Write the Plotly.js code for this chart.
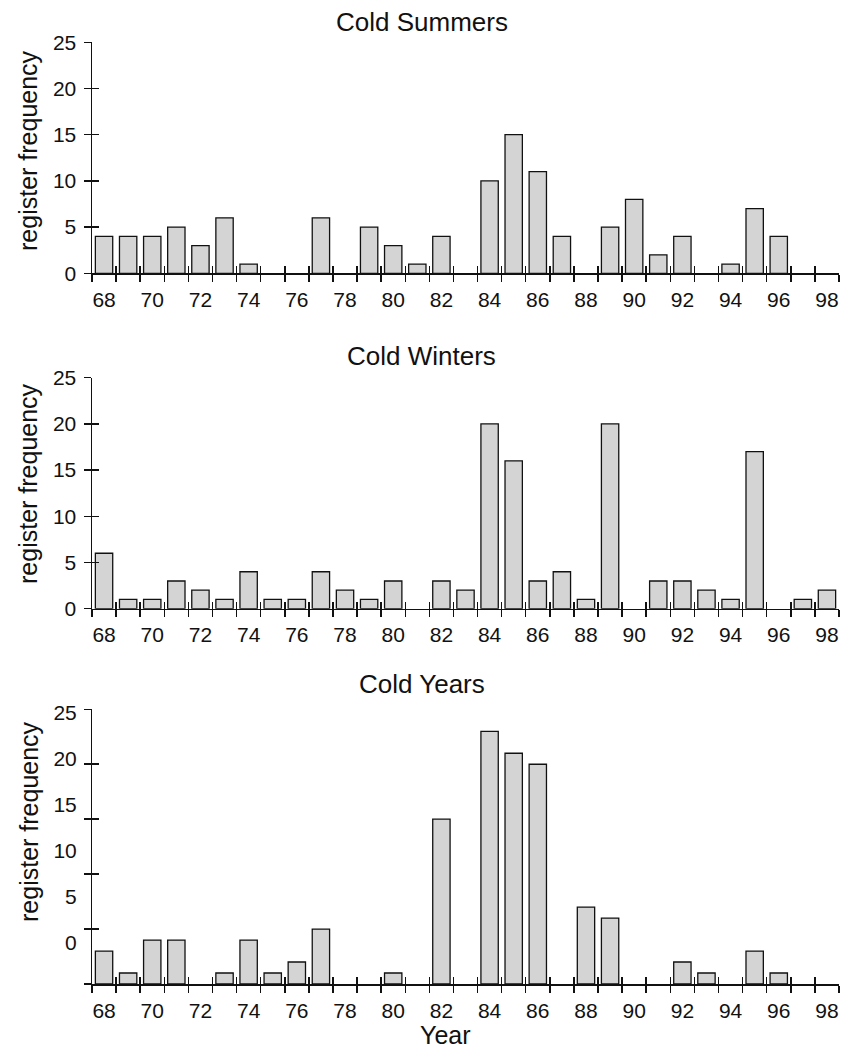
<!DOCTYPE html>
<html>
<head>
<meta charset="utf-8">
<script src="https://cdn.plot.ly/plotly-3.0.1.min.js"></script>
<style>
  html, body { margin: 0; padding: 0; background: #ffffff; }
  #chart { width: 841px; height: 1049px; }
</style>
</head>
<body>
<div id="chart"></div>
<script>
// ---- data ----
const years = [68, 69, 70, 71, 72, 73, 74, 75, 76, 77, 78, 79, 80, 81, 82, 83,
               84, 85, 86, 87, 88, 89, 90, 91, 92, 93, 94, 95, 96, 97, 98];
const coldSummers = [4, 4, 4, 5, 3, 6, 1, 0, 0, 6, 0, 5, 3, 1, 4, 0,
                     10, 15, 11, 4, 0, 5, 8, 2, 4, 0, 1, 7, 4, 0, 0];
const coldWinters = [6, 1, 1, 3, 2, 1, 4, 1, 1, 4, 2, 1, 3, 0, 3, 2,
                     20, 16, 3, 4, 1, 20, 0, 3, 3, 2, 1, 17, 0, 1, 2];
const coldYears = [3, 1, 4, 4, 0, 1, 4, 1, 2, 5, 0, 0, 1, 0, 15, 0,
                   23, 21, 20, 0, 7, 6, 0, 0, 2, 1, 0, 3, 1, 0, 0];
const xTickYears = [68, 70, 72, 74, 76, 78, 80, 82, 84, 86, 88, 90, 92, 94, 96, 98];
const xTickLabels = ['68', '70', '72', '74', '76', '78', '80', '82', '84', '86', '88', '90', '92', '94', '96', '98'];
const yTickVals = [0, 5, 10, 15, 20, 25];
const yTickLabels = ['0', '5', '10', '15', '20', '25'];
const panelTitles = ['Cold Summers', 'Cold Winters', 'Cold Years'];
const yTitle = 'register frequency';
const xTitle = 'Year';

// ---- styling ----
const FONT = 'Liberation Sans, Arial, Helvetica, sans-serif';
const INK = '#111111';
const BAR_FILL = '#d4d4d4';
const H = 1049;
const xRange = [years[0] - 0.5, years[years.length - 1] + 0.5];
const boundaries = years.map(y => y - 0.5).concat([years[years.length - 1] + 0.5]);

// vertical extent of each panel's plot area, in pixels from the top
const panelPx = [[42.3, 273.3], [377.7, 608.7], [709.3, 984]];
const domains = panelPx.map(p => [1 - p[1] / H, 1 - p[0] / H]);

function bar(values, xa, ya) {
  return {
    type: 'bar', x: years, y: values.map(v => (v === 0 ? null : v)), xaxis: xa, yaxis: ya,
    width: 0.72,
    marker: { color: BAR_FILL, line: { color: INK, width: 1.3 } },
    hoverinfo: 'x+y', showlegend: false
  };
}
// invisible carrier trace so that the overlay (tick-only) axes get drawn
function carrier(values, xa, ya) {
  return {
    type: 'scatter', mode: 'none', x: years, y: values, xaxis: xa, yaxis: ya,
    hoverinfo: 'skip', showlegend: false
  };
}

const data = [
  bar(coldSummers, 'x', 'y'),
  bar(coldWinters, 'x2', 'y2'),
  bar(coldYears, 'x3', 'y3'),
  carrier(coldSummers, 'x4', 'y4'),
  carrier(coldWinters, 'x5', 'y5'),
  carrier(coldYears, 'x6', 'y6'),
  carrier(coldYears, 'x6', 'y7')
];

function mainX(anchor) {
  return {
    domain: [0, 1], anchor: anchor, range: xRange, fixedrange: true,
    tickmode: 'array', tickvals: xTickYears, ticktext: xTickLabels,
    ticks: 'outside', ticklen: 7, tickcolor: 'rgba(0,0,0,0)',
    minor: { tickmode: 'array', tickvals: boundaries, ticks: 'outside', ticklen: 7, tickwidth: 1.5, tickcolor: INK },
    showline: true, linecolor: INK, linewidth: 1.5,
    showgrid: false, zeroline: false,
    tickfont: { family: FONT, size: 21, color: INK }
  };
}
function overX(over, anchor) {
  return {
    overlaying: over, anchor: anchor, range: xRange, fixedrange: true, side: 'bottom',
    tickmode: 'array', tickvals: boundaries, ticks: 'inside', ticklen: 7, tickwidth: 1.5, tickcolor: INK,
    showticklabels: false, showline: false, showgrid: false, zeroline: false
  };
}
function mainY(domain, anchor, showLabels) {
  return {
    domain: domain, anchor: anchor, range: [0, 25], fixedrange: true,
    tickmode: 'array', tickvals: yTickVals, ticktext: yTickLabels,
    ticks: 'outside', ticklen: 7, tickwidth: 1.5, tickcolor: INK,
    ticklabelstandoff: 3,
    showticklabels: showLabels,
    showline: true, linecolor: INK, linewidth: 1.5,
    showgrid: false, zeroline: false,
    tickfont: { family: FONT, size: 21, color: INK }
  };
}
function overY(over, anchor) {
  return {
    overlaying: over, anchor: anchor, range: [0, 25], fixedrange: true, side: 'left',
    tickmode: 'array', tickvals: yTickVals, ticks: 'inside', ticklen: 7, tickwidth: 1.5, tickcolor: INK,
    showticklabels: false, showline: false, showgrid: false, zeroline: false
  };
}

const layout = {
  width: 841, height: 1049,
  margin: { l: 92, r: 2, t: 0, b: 0 },
  paper_bgcolor: '#ffffff', plot_bgcolor: 'rgba(0,0,0,0)',
  font: { family: FONT, color: INK },
  showlegend: false,
  xaxis: mainX('y'),
  xaxis2: mainX('y2'),
  xaxis3: mainX('y3'),
  xaxis4: overX('x', 'y'),
  xaxis5: overX('x2', 'y2'),
  xaxis6: overX('x3', 'y3'),
  yaxis: mainY(domains[0], 'x', true),
  yaxis2: mainY(domains[1], 'x2', true),
  yaxis3: mainY(domains[2], 'x3', false),
  yaxis4: overY('y', 'x'),
  yaxis5: overY('y2', 'x2'),
  yaxis6: overY('y3', 'x3'),
  // the third panel's tick labels sit on a shifted scale in the reference
  yaxis7: {
    overlaying: 'y3', anchor: 'x3', range: [-4.46, 25.4], fixedrange: true, side: 'left',
    tickmode: 'array', tickvals: yTickVals, ticktext: yTickLabels,
    ticks: 'outside', ticklen: 7, tickcolor: 'rgba(0,0,0,0)',
    ticklabelstandoff: 3,
    showline: false, showgrid: false, zeroline: false,
    tickfont: { family: FONT, size: 21, color: INK }
  },
  annotations: [
    { text: panelTitles[0], xref: 'paper', yref: 'paper', x: (421.5 - 92) / 747, y: 1 - 22 / H,
      xanchor: 'center', yanchor: 'middle', showarrow: false, font: { family: FONT, size: 26, color: INK } },
    { text: panelTitles[1], xref: 'paper', yref: 'paper', x: (421.5 - 92) / 747, y: 1 - 356 / H,
      xanchor: 'center', yanchor: 'middle', showarrow: false, font: { family: FONT, size: 26, color: INK } },
    { text: panelTitles[2], xref: 'paper', yref: 'paper', x: (421.5 - 92) / 747, y: 1 - 684 / H,
      xanchor: 'center', yanchor: 'middle', showarrow: false, font: { family: FONT, size: 26, color: INK } },
    { text: yTitle, xref: 'paper', yref: 'paper', x: (28 - 92) / 747, y: 1 - 151 / H, textangle: -90,
      xanchor: 'center', yanchor: 'middle', showarrow: false, font: { family: FONT, size: 25, color: INK } },
    { text: yTitle, xref: 'paper', yref: 'paper', x: (28 - 92) / 747, y: 1 - 484 / H, textangle: -90,
      xanchor: 'center', yanchor: 'middle', showarrow: false, font: { family: FONT, size: 25, color: INK } },
    { text: yTitle, xref: 'paper', yref: 'paper', x: (29 - 92) / 747, y: 1 - 822 / H, textangle: -90,
      xanchor: 'center', yanchor: 'middle', showarrow: false, font: { family: FONT, size: 25, color: INK } },
    { text: xTitle, xref: 'paper', yref: 'paper', x: (445.5 - 92) / 747, y: 1 - 1035 / H,
      xanchor: 'center', yanchor: 'middle', showarrow: false, font: { family: FONT, size: 25, color: INK } }
  ]
};

Plotly.newPlot('chart', data, layout, { displayModeBar: false, staticPlot: true });
</script>
</body>
</html>
